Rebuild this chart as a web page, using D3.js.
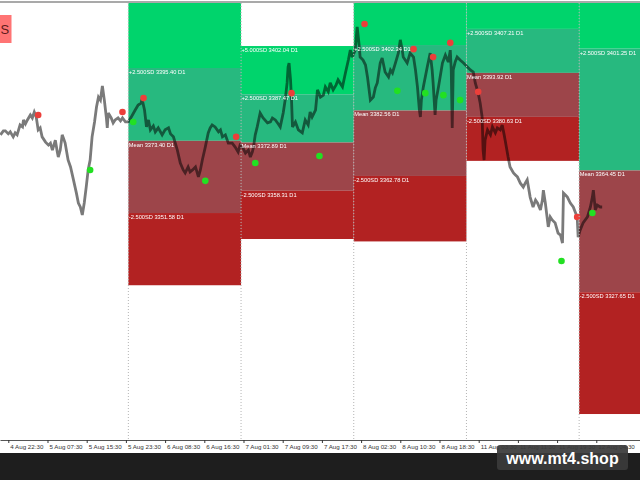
<!DOCTYPE html>
<html><head><meta charset="utf-8">
<script src="https://cdn.jsdelivr.net/npm/d3@7"></script>
<style>html,body{margin:0;padding:0;background:#fff;overflow:hidden}</style>
</head><body>
<svg id="c" width="640" height="480"></svg>
<script>
// ---- data ----
const tickLabels = ["4 Aug 22:30","5 Aug 07:30","5 Aug 15:30","5 Aug 23:30","6 Aug 08:30","6 Aug 16:30",
  "7 Aug 01:30","7 Aug 09:30","7 Aug 17:30","8 Aug 02:30","8 Aug 10:30","8 Aug 18:30",
  "11 Aug 03:30","11 Aug 11:30","11 Aug 19:30","12 Aug 04:30"];
// trading hours elapsed since 4 Aug 22:30 for each tick label
const tickHours = [0,8,16,24,32,40,48,56,64,72,80,88,96,104,112,120];

// daily zones (trading-hour index of day start / end)
const dayStart = [24.5, 47.5, 70.5, 93.5, 116.5];
const dayEnd   = [47.5, 70.5, 93.5, 116.5, 139.5];
const sdPlus5   = [3417.40, 3402.04, 3422.12, 3420.50, 3438.05];
const sdPlus25  = [3395.40, 3387.47, 3402.34, 3407.21, 3401.25];
const sdMean    = [3373.40, 3372.89, 3382.56, 3393.92, 3364.45];
const sdMinus25 = [3351.58, 3358.31, 3362.78, 3380.63, 3327.65];
const sdMinus5  = [3329.76, 3343.73, 3343.00, 3367.34, 3290.85];
const bandNames = ["+5.000SD", "+2.500SD", "Mean", "-2.500SD"];

// price path (trading hours since 4 Aug 22:30, price)
const priceHour = [
 -1.6,-1.0,-0.6,0.0,0.4,1.0,1.4,1.8,2.4,2.9,
 3.1,3.5,3.9,4.5,4.9,5.3,5.7,6.1,6.5,6.9,
 7.6,8.2,8.6,9.0,9.6,10.0,10.2,10.6,11.0,11.4,
 11.6,12.2,12.7,13.3,13.9,14.3,14.7,15.1,15.5,15.9,
 16.3,16.7,17.1,17.6,18.0,18.4,18.8,19.2,19.6,20.0,
 20.2,20.4,21.0,21.4,21.8,22.4,22.9,23.3,23.9,24.5,
 25.1,25.9,26.5,27.1,27.3,27.8,28.2,28.6,29.0,29.6,
 30.0,30.6,31.4,32.0,32.7,33.1,33.7,34.5,35.1,35.7,
 36.1,36.7,37.1,37.6,38.2,38.8,39.2,39.6,40.2,40.8,
 41.2,41.6,42.2,42.9,43.3,43.7,44.3,44.9,45.7,46.3,
 46.9,47.3,47.8,48.4,49.0,49.4,49.8,50.0,50.4,50.8,
 51.4,52.0,52.9,53.5,53.9,54.5,55.1,55.5,56.1,56.5,
 56.9,57.1,57.3,57.6,57.8,58.0,58.6,59.2,60.0,60.6,
 61.2,61.6,62.0,62.7,63.1,63.7,64.3,64.7,65.3,65.7,
 66.3,66.9,67.3,68.2,68.8,69.4,69.8,70.2,70.8,71.2,
 71.6,71.8,72.4,72.9,73.3,73.9,74.5,74.9,75.3,75.9,
 76.3,76.9,77.6,78.0,78.4,79.0,79.6,80.0,80.4,80.6,
 81.4,82.0,82.7,83.1,83.5,83.9,84.1,84.3,84.7,85.5,
 86.1,86.5,86.7,87.1,87.3,87.8,88.6,89.2,89.8,90.2,
 90.4,90.6,90.8,91.2,91.6,92.2,92.9,93.7,94.3,94.9,
 95.3,95.9,96.3,96.7,96.9,97.1,97.3,97.8,98.4,98.8,
 99.4,99.8,100.4,100.8,101.2,101.4,102.0,102.4,103.1,103.5,
 103.9,104.5,105.1,105.5,105.9,106.5,107.1,107.6,108.0,108.6,
 109.0,109.2,109.6,110.2,110.6,111.0,111.6,112.2,112.7,113.1,
 113.3,113.7,114.1,114.7,115.3,115.7,116.1,116.3,116.7,117.3,
 118.2,118.8,119.2,119.4,119.8,120.2,120.8,121.2];
const priceValue = [
 3375.2,3376.4,3376.4,3375.5,3376.1,3374.6,3375.8,3375.2,3378.2,3377.6,
 3379.7,3378.5,3379.7,3381.2,3380.3,3382.1,3380.6,3376.7,3377.3,3374.6,
 3373.0,3372.1,3372.7,3370.6,3373.6,3370.0,3368.5,3370.6,3375.2,3373.6,
 3372.7,3367.6,3365.5,3361.6,3357.6,3354.6,3353.4,3351.0,3354.6,3359.4,
 3364.6,3367.6,3374.6,3379.1,3383.6,3386.6,3385.7,3390.0,3385.7,3380.6,
 3377.3,3381.8,3380.3,3378.8,3379.7,3380.3,3379.4,3380.3,3379.1,3379.1,
 3380.6,3382.7,3384.2,3384.8,3386.0,3382.7,3377.6,3379.7,3376.7,3377.9,
 3376.1,3377.3,3375.2,3376.7,3377.3,3375.5,3374.6,3370.6,3366.7,3364.6,
 3363.7,3365.5,3364.0,3364.6,3365.5,3362.5,3364.6,3367.6,3371.5,3375.8,
 3377.3,3378.2,3377.6,3376.1,3376.7,3374.6,3375.2,3372.7,3372.7,3371.5,
 3370.0,3372.1,3371.5,3369.7,3370.6,3368.5,3370.0,3371.2,3375.2,3377.6,
 3381.8,3380.3,3378.8,3379.1,3380.3,3379.7,3378.5,3377.6,3381.8,3385.7,
 3390.9,3395.7,3396.9,3391.8,3385.7,3377.6,3379.1,3376.7,3375.8,3379.7,
 3378.2,3382.1,3380.6,3382.7,3388.8,3386.6,3387.2,3389.7,3388.2,3390.9,
 3388.8,3390.3,3391.8,3389.7,3393.9,3397.8,3400.8,3398.7,3400.8,3407.8,
 3402.4,3398.7,3397.8,3396.3,3392.7,3385.7,3386.6,3389.4,3390.9,3396.9,
 3398.4,3394.2,3392.7,3394.8,3393.9,3396.9,3399.9,3403.9,3400.8,3398.7,
 3396.9,3399.9,3398.7,3394.8,3389.7,3382.7,3380.6,3385.7,3389.7,3395.7,
 3399.9,3394.8,3390.9,3381.2,3385.7,3389.7,3396.9,3399.3,3397.2,3400.8,
 3394.8,3377.3,3394.8,3397.2,3398.7,3397.8,3396.9,3395.7,3394.8,3394.2,
 3390.9,3387.8,3384.8,3380.6,3370.6,3367.6,3373.6,3376.7,3375.2,3377.6,
 3375.8,3377.3,3376.7,3378.2,3375.2,3373.6,3368.5,3365.5,3363.7,3363.1,
 3362.5,3360.6,3359.4,3360.6,3361.6,3356.4,3353.4,3355.5,3354.6,3352.5,
 3355.5,3358.5,3354.6,3347.4,3350.4,3349.5,3348.6,3345.5,3344.9,3342.5,
 3357.6,3357.0,3356.4,3354.6,3353.4,3351.9,3350.4,3344.3,3346.4,3348.6,
 3350.4,3353.4,3356.4,3358.5,3352.5,3354.0,3353.4,3353.4];

// signal dots
const sellHour  = [6.1, 23.3, 27.6, 46.5, 57.8, 72.7, 82.7, 86.7, 90.2, 95.9, 116.1];
const sellPrice = [3381.2, 3382.1, 3386.3, 3374.6, 3387.8, 3408.7, 3401.1, 3398.7, 3403.0, 3388.2, 3350.4];
const buyHour   = [16.7, 25.5, 40.2, 50.4, 63.5, 79.4, 85.1, 88.8, 92.2, 112.9, 119.2];
const buyPrice  = [3364.6, 3379.1, 3361.3, 3366.7, 3368.8, 3388.5, 3387.8, 3387.2, 3385.7, 3337.1, 3351.6];

// ---- drawing ----
const W = 640, plotTop = 3, plotBottom = 440;
const svg = d3.select("#c");
const x = d3.scaleLinear().domain([-1.694, 128.92]).range([0, W]);
const y = d3.scaleLinear().domain([3283.0, 3415.04]).range([plotBottom, plotTop]);
const font = "'Liberation Sans', Arial, sans-serif";

svg.append("rect").attr("width", W).attr("height", 480).attr("fill", "#fff");
svg.append("defs").append("clipPath").attr("id", "plot")
  .append("rect").attr("x", 0).attr("y", plotTop).attr("width", W).attr("height", plotBottom - plotTop);

const plot = svg.append("g").attr("clip-path", "url(#plot)");
const levels = [sdPlus5, sdPlus25, sdMean, sdMinus25, sdMinus5];
const bandColors = ["#00d46c", "#27b97f", "#9d454a", "#b22222"];

dayStart.forEach((ds, d) => {
  for (let b = 0; b < 4; b++) {
    const y0 = y(levels[b][d]), y1 = y(levels[b + 1][d]);
    plot.append("rect")
      .attr("x", x(ds)).attr("width", x(dayEnd[d]) - x(ds))
      .attr("y", y0).attr("height", y1 - y0)
      .attr("fill", bandColors[b]);
  }
});

// price line (multiply blend so it darkens over zones)
const line = d3.line().x((d, i) => x(priceHour[i])).y((d, i) => y(priceValue[i]));
plot.append("path").datum(priceValue)
  .attr("d", line).attr("fill", "none")
  .attr("stroke", "#7a7a7a").attr("stroke-width", 2.8)
  .attr("stroke-linejoin", "miter").attr("stroke-miterlimit", 3)
  .style("mix-blend-mode", "multiply");

// day separators
dayStart.forEach(ds => {
  svg.append("line").attr("x1", x(ds)).attr("x2", x(ds))
    .attr("y1", plotTop).attr("y2", plotBottom)
    .attr("stroke", "#b4b4b4").attr("stroke-width", 1)
    .attr("stroke-dasharray", "1,2");
});

// zone labels
dayStart.forEach((ds, d) => {
  for (let b = 0; b < 4; b++) {
    const yy = y(levels[b][d]);
    if (yy < plotTop) continue;
    plot.append("text")
      .attr("x", x(ds) + 0.5).attr("y", yy + 6)
      .attr("fill", "#ffffff").attr("font-family", font).attr("font-size", 5.7)
      .text(`${bandNames[b]} ${levels[b][d].toFixed(2)} D1`);
  }
});

// signals
plot.selectAll("circle.sell").data(sellHour).enter().append("circle")
  .attr("class", "sell")
  .attr("cx", (d) => x(d)).attr("cy", (d, i) => y(sellPrice[i]))
  .attr("r", 3.3).attr("fill", "#ec3f3a");
plot.selectAll("circle.buy").data(buyHour).enter().append("circle")
  .attr("class", "buy")
  .attr("cx", (d) => x(d)).attr("cy", (d, i) => y(buyPrice[i]))
  .attr("r", 3.3).attr("fill", "#22e022");

// top border
svg.append("rect").attr("x", 0).attr("y", 1).attr("width", W).attr("height", 2).attr("fill", "#a9a9a9");

// time axis
const ax = svg.append("g").attr("transform", `translate(0,${plotBottom})`)
  .call(d3.axisBottom(x).tickValues(tickHours)
    .tickFormat((d, i) => tickLabels[i]).tickSize(3).tickSizeOuter(0));
ax.select(".domain").attr("stroke", "#555");
ax.selectAll(".tick line").attr("stroke", "#333");
ax.selectAll(".tick text")
  .attr("text-anchor", "start").attr("x", 1.5).attr("y", 4.2)
  .attr("fill", "#333").attr("font-family", font).attr("font-size", 6.2);

// symbol badge at top-left
svg.append("rect").attr("x", -2).attr("y", 15).attr("width", 13.5).attr("height", 28).attr("fill", "#ff7474");
svg.append("text").attr("x", 0.5).attr("y", 34).attr("fill", "#5c1a1a")
  .attr("font-family", font).attr("font-size", 13).text("S");

// bottom dark strip and watermark
svg.append("rect").attr("x", 0).attr("y", 453).attr("width", W).attr("height", 27).attr("fill", "#1e1e1e");
svg.append("rect").attr("x", 497).attr("y", 445).attr("width", 131).attr("height", 25).attr("rx", 3)
  .attr("fill", "#3a3a3a").attr("fill-opacity", 0.93);
svg.append("text").attr("x", 562.5).attr("y", 463.5).attr("text-anchor", "middle")
  .attr("fill", "#fff").attr("font-family", font).attr("font-weight", "bold").attr("font-size", 16)
  .text("www.mt4.shop");
</script>
</body></html>
